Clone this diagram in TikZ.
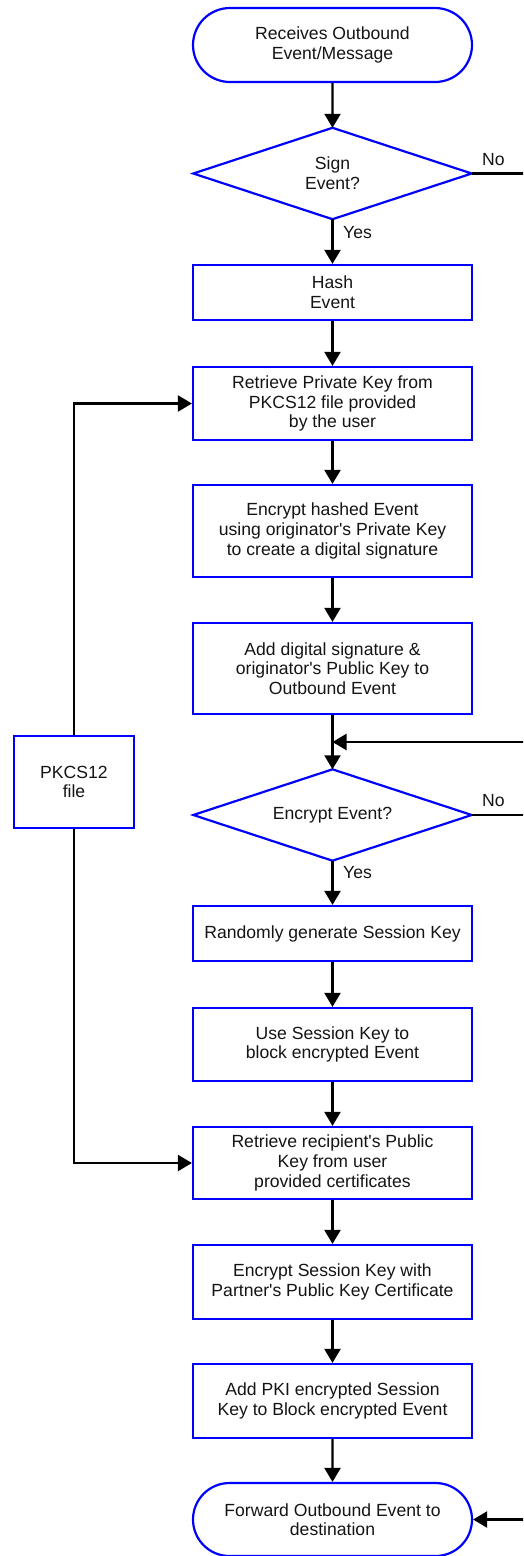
\documentclass[tikz,border=0pt]{standalone}
\usepackage{fontspec}
\setmainfont{Liberation Sans}[Ligatures=TeXOff]
\usetikzlibrary{arrows.meta,shapes.misc}
\definecolor{boxblue}{RGB}{0,0,255}
\definecolor{txt}{RGB}{20,20,20}
\begin{document}
\begin{tikzpicture}[x=1pt,y=-1pt,
  every node/.style={font=\fontsize{17.6}{19.6}\selectfont, text=txt},
  box/.style={draw=boxblue, line width=2.2pt, minimum width=279pt, inner sep=0pt, align=center},
  term/.style={rounded rectangle, draw=boxblue, line width=2.2pt, minimum width=279pt, inner sep=0pt, align=center},
  dia/.style={rectangle, minimum width=278pt, minimum height=91pt, inner sep=0pt, align=center},
  diaedge/.style={draw=boxblue, line width=2.2pt, line join=miter},
  arr/.style={line width=2.2pt, draw=black, -{Triangle[width=16pt,length=14pt]}},
  lbl/.style={anchor=base west, inner sep=0pt}]
\useasboundingbox (0,0) rectangle (523,1556);
\clip (0,0) rectangle (523,1556);

\node[term, minimum height=74pt] (start) at (332.5,45) {Receives Outbound\\Event/Message};
\node[dia] (d1) at (332.5,173.5) {Sign\\Event?};
\draw[diaedge] (d1.north) -- (d1.east) -- (d1.south) -- (d1.west) -- cycle;
\node[box, minimum height=55pt] (hash) at (332.5,292.5) {Hash\\Event};
\node[box, minimum height=73pt] (rpk) at (332.5,403.5) {Retrieve Private Key from\\PKCS12 file provided\\by the user};
\node[box, minimum height=92pt] (enc) at (332.5,531) {Encrypt hashed Event\\using originator's Private Key\\to create a digital signature};
\node[box, minimum height=91pt] (add) at (332.5,668.5) {Add digital signature \&\\originator's Public Key to\\Outbound Event};
\node[dia] (d2) at (332.5,815) {Encrypt Event?};
\draw[diaedge] (d2.north) -- (d2.east) -- (d2.south) -- (d2.west) -- cycle;
\node[box, minimum height=55pt] (rand) at (332.5,933.5) {Randomly generate Session Key};
\node[box, minimum height=73pt] (use) at (332.5,1044.5) {Use Session Key to\\block encrypted Event};
\node[box, minimum height=72pt] (rrp) at (332.5,1163) {Retrieve recipient's Public\\Key from user\\provided certificates};
\node[box, minimum height=74pt] (esk) at (332.5,1282) {Encrypt Session Key with\\Partner's Public Key Certificate};
\node[box, minimum height=74pt] (pki) at (332.5,1401) {Add PKI encrypted Session\\Key to Block encrypted Event};
\node[term, minimum height=73pt] (fin) at (332.5,1519.5) {Forward Outbound Event to\\destination};
\node[box, minimum width=120pt, minimum height=92pt] (pk) at (74,782) {PKCS12\\file};

\coordinate (m) at (332.5,742);
\coordinate (r1) at (530,173.5);
\coordinate (r2) at (530,815);

\draw[arr] (start) -- (d1.north);
\draw[arr] (d1.south) -- (hash);
\draw[arr] (hash) -- (rpk);
\draw[arr] (rpk) -- (enc);
\draw[arr] (enc) -- (add);
\draw[arr] (add) -- (d2.north);
\draw[arr] (d2.south) -- (rand);
\draw[arr] (rand) -- (use);
\draw[arr] (use) -- (rrp);
\draw[arr] (rrp) -- (esk);
\draw[arr] (esk) -- (pki);
\draw[arr] (pki) -- (fin);
\draw[arr] (d1.east) -- (r1) |- (m);
\draw[arr] (d2.east) -- (r2) |- (fin.east);
\draw[arr] (pk.north) |- (rpk.west);
\draw[arr] (pk.south) |- (rrp.west);

\node[lbl] (no1) at (482,165) {No};
\node[lbl] (yes1) at (343,238) {Yes};
\node[lbl] (no2) at (482,806) {No};
\node[lbl] (yes2) at (343,878) {Yes};
\end{tikzpicture}
\end{document}
